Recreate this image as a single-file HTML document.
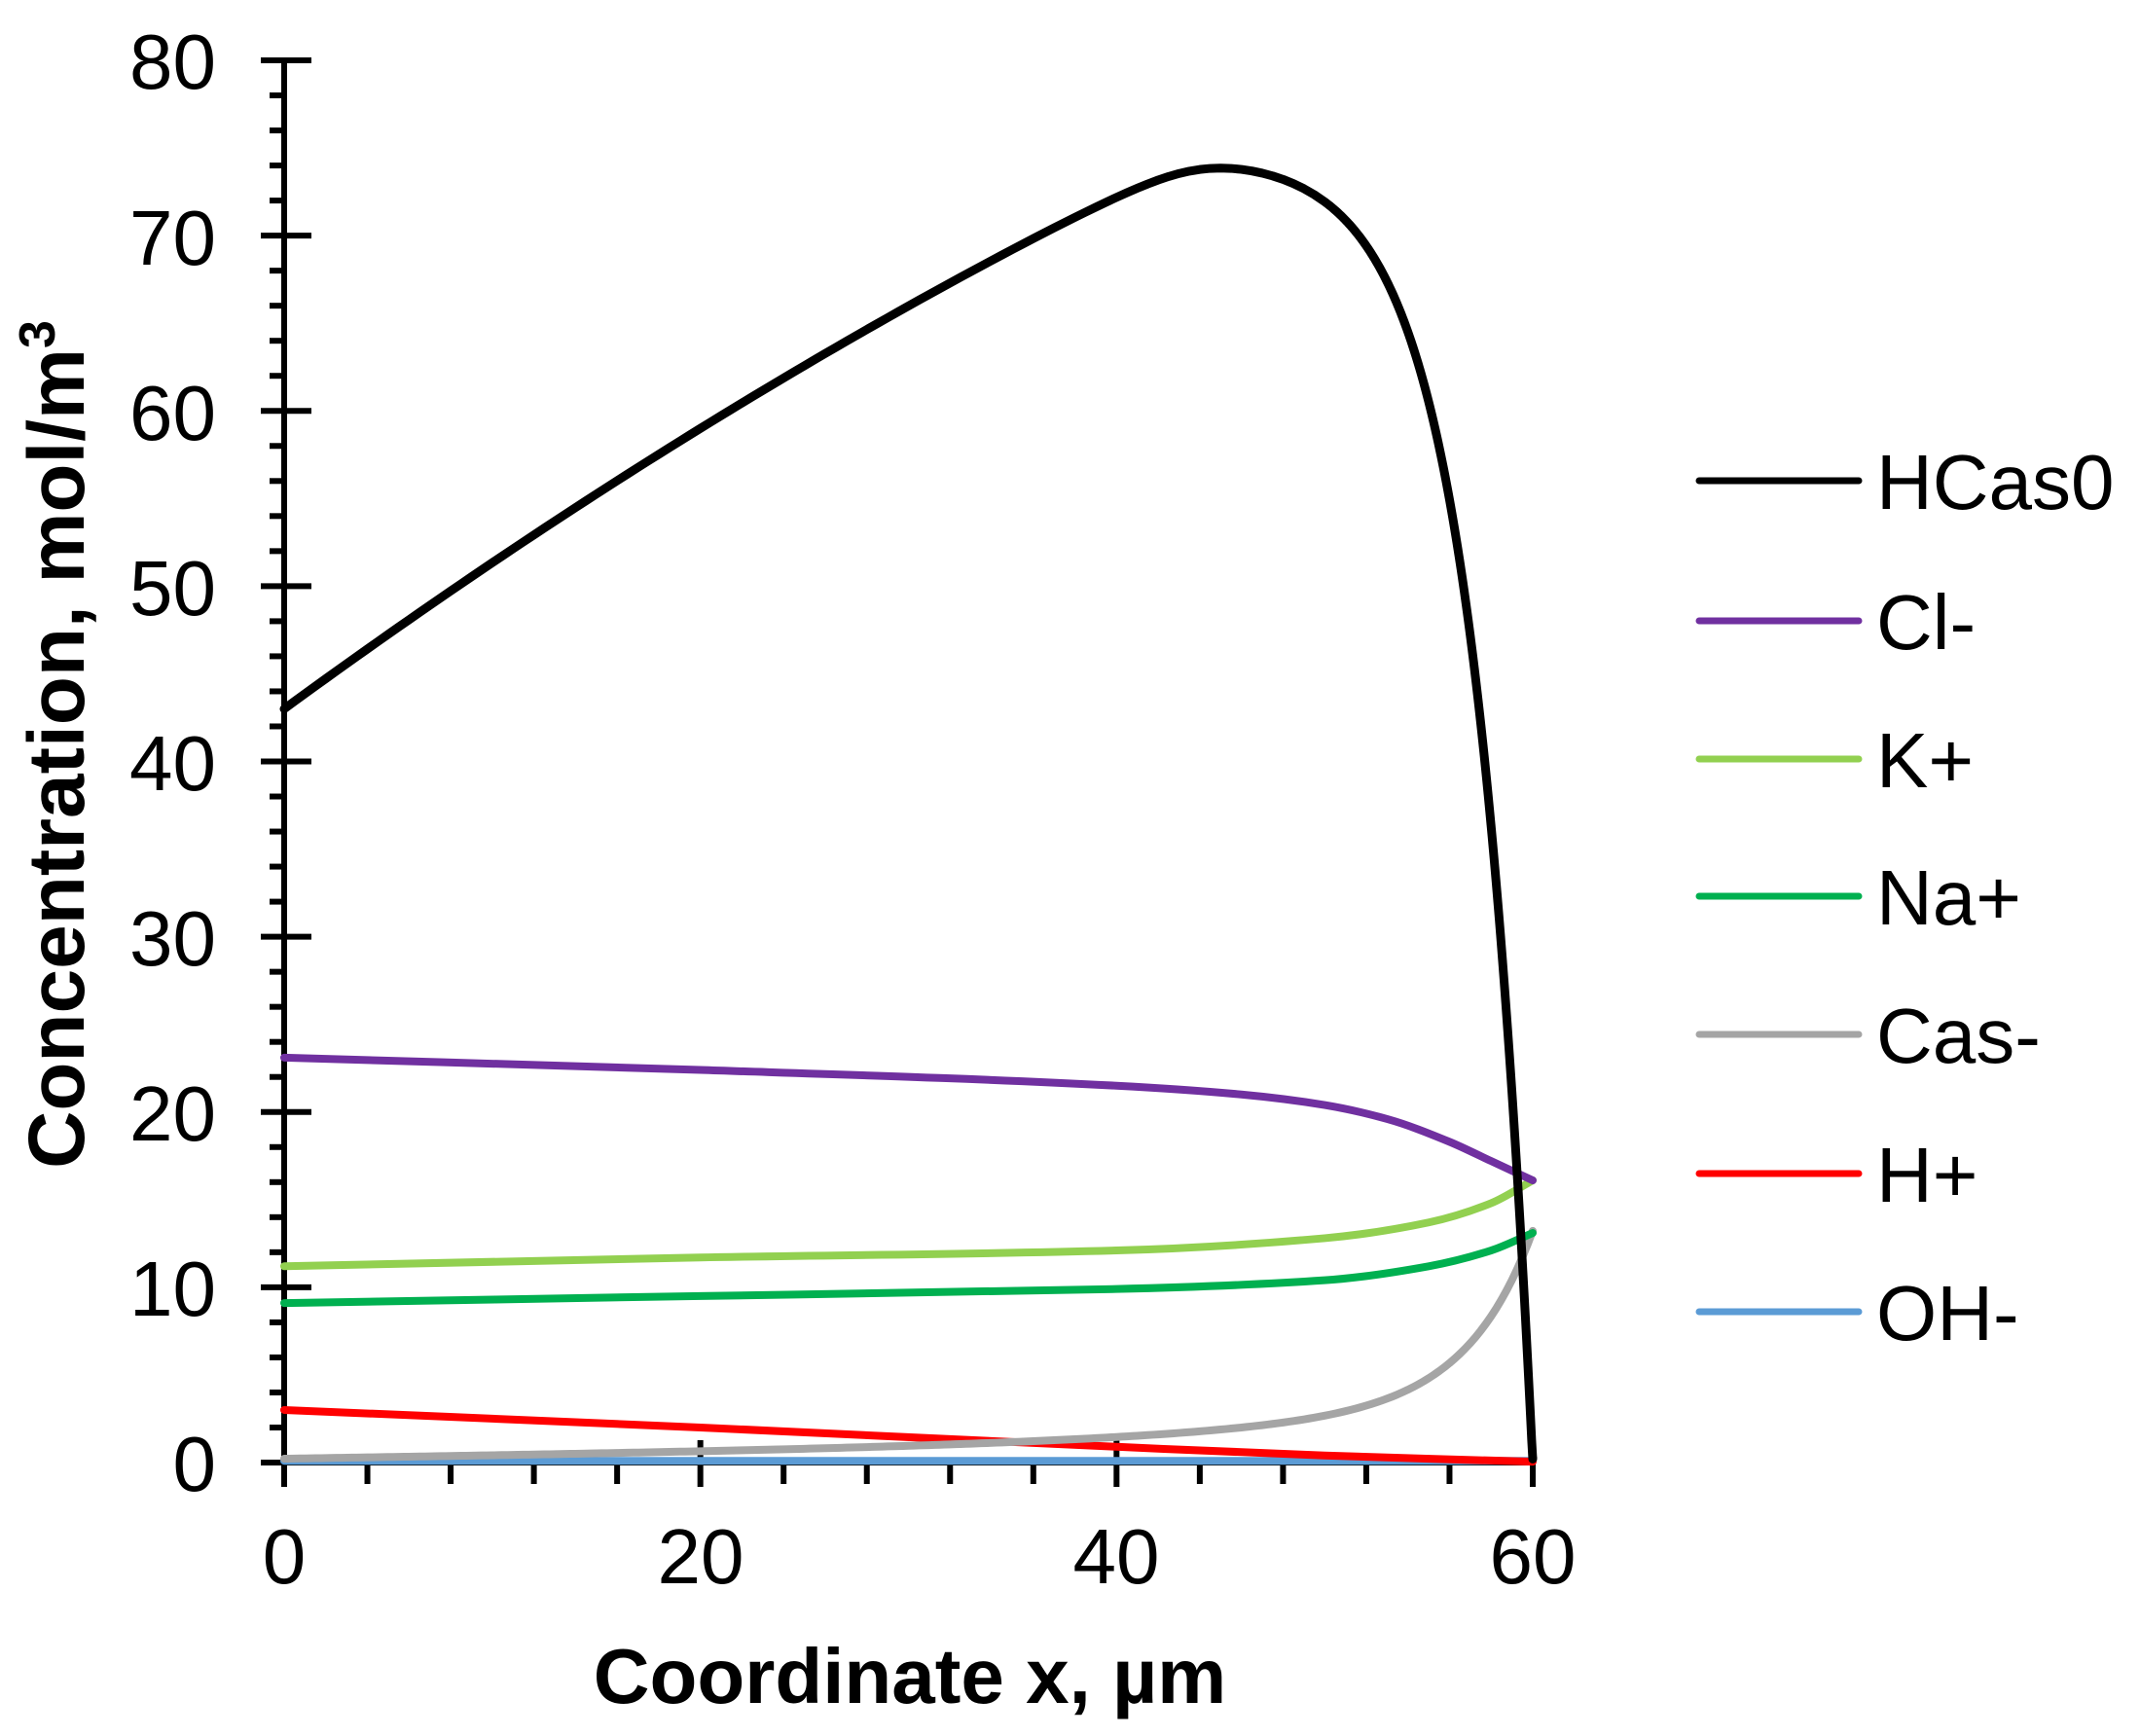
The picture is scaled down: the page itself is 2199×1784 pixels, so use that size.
<!DOCTYPE html>
<html><head><meta charset="utf-8"><style>
html,body{margin:0;padding:0;background:#fff;}
svg{display:block;font-family:"Liberation Sans",Arial,sans-serif;}
</style></head><body>
<svg id="s" width="2199" height="1784" viewBox="0 0 2199 1784" xmlns="http://www.w3.org/2000/svg">
<rect width="2199" height="1784" fill="#fff"/>
<g id="axes" stroke="#000" stroke-width="6" fill="none"></g>
<g id="series" fill="none" stroke-width="8" stroke-linejoin="round" stroke-linecap="round"></g>
<g font-size="80" fill="#000" text-anchor="end">
<text x="222" y="1532">0</text>
<text x="222" y="1352">10</text>
<text x="222" y="1172">20</text>
<text x="222" y="992">30</text>
<text x="222" y="812">40</text>
<text x="222" y="632">50</text>
<text x="222" y="452">60</text>
<text x="222" y="272">70</text>
<text x="222" y="91">80</text>
</g>
<g font-size="80" fill="#000" text-anchor="middle">
<text x="292" y="1627">0</text>
<text x="720" y="1627">20</text>
<text x="1147" y="1627">40</text>
<text x="1575" y="1627">60</text>
</g>
<text x="935" y="1750" text-anchor="middle" font-size="80" font-weight="bold">Coordinate x, µm</text>
<text transform="translate(86,765) rotate(-90)" text-anchor="middle" font-size="82" font-weight="bold">Concentration, mol/m<tspan font-size="52" dy="-30">3</tspan></text>
<g id="legend" stroke-width="7" stroke-linecap="round"></g>
<g font-size="80" fill="#000">
<text x="1928" y="523">HCas0</text>
<text x="1928" y="667">Cl-</text>
<text x="1928" y="809">K+</text>
<text x="1928" y="950">Na+</text>
<text x="1928" y="1092">Cas-</text>
<text x="1928" y="1235">H+</text>
<text x="1928" y="1377">OH-</text>
</g>
</svg>
<script>
var NS="http://www.w3.org/2000/svg";
function X(x){return 292+x*(1575-292)/60;}
function Y(y){return 1503-y*(1503-62)/80;}
function add(g,tag,attrs){var e=document.createElementNS(NS,tag);for(var k in attrs)e.setAttribute(k,attrs[k]);document.getElementById(g).appendChild(e);return e;}
add("axes","line",{x1:292,y1:59,x2:292,y2:1528});
add("axes","line",{x1:289,y1:1503,x2:1578,y2:1503});
for(var i=0;i<=40;i++){var y=Y(i*2);if(i%5==0)add("axes","line",{x1:268,y1:y,x2:320,y2:y});else add("axes","line",{x1:277,y1:y,x2:292,y2:y});}
for(var i=0;i<=15;i++){var x=X(i*4);if(i%5==0)add("axes","line",{x1:x,y1:1480,x2:x,y2:1528});else add("axes","line",{x1:x,y1:1503,x2:x,y2:1525});}
function pchip(pts,col,w){
 var p=pts.map(function(a){return [X(a[0]),Y(a[1])];});
 var n=p.length,d=[],m=[];
 for(var i=0;i<n-1;i++)d.push((p[i+1][1]-p[i][1])/(p[i+1][0]-p[i][0]));
 m[0]=d[0];m[n-1]=d[n-2];
 for(var i=1;i<n-1;i++){
  if(d[i-1]*d[i]<=0)m[i]=0;
  else{var h0=p[i][0]-p[i-1][0],h1=p[i+1][0]-p[i][0];var w1=2*h1+h0,w2=h1+2*h0;m[i]=(w1+w2)/(w1/d[i-1]+w2/d[i]);}
 }
 var s="M"+p[0][0].toFixed(2)+","+p[0][1].toFixed(2);
 for(var i=0;i<n-1;i++){
  var h=(p[i+1][0]-p[i][0])/3;
  s+=" C"+(p[i][0]+h).toFixed(2)+","+(p[i][1]+m[i]*h).toFixed(2)+" "+(p[i+1][0]-h).toFixed(2)+","+(p[i+1][1]-m[i+1]*h).toFixed(2)+" "+p[i+1][0].toFixed(2)+","+p[i+1][1].toFixed(2);
 }
 var e=add("series","path",{d:s,stroke:col});
 if(w)e.setAttribute("stroke-width",w);
}
function poly(pts,col,w){
 var s=pts.map(function(a,i){return (i?"L":"M")+X(a[0]).toFixed(2)+","+Y(a[1]).toFixed(2);}).join(" ");
 var e=add("series","path",{d:s,stroke:col});
 if(w)e.setAttribute("stroke-width",w);
}
pchip([[0,0.1],[60,0.1]],"#5b9bd5");
pchip([[0,3],[20,2],[40,0.9],[50,0.4],[60,0.05]],"#ff0000");
var cas=[];for(var x=0;x<=60.001;x+=0.25){cas.push([x,0.3+0.017*x+9*Math.exp((x-60)/3)+3*Math.exp((x-60)/12)-0.1]);}
poly(cas,"#a5a5a5");
pchip([[0,9.1],[20,9.5],[40,9.9],[50,10.4],[55,11.2],[58,12.1],[60,13.1]],"#00b050");
pchip([[0,11.2],[20,11.7],[40,12.1],[50,12.8],[55,13.7],[58,14.8],[60,16.1]],"#92d050");
pchip([[0,23.1],[20,22.4],[40,21.5],[46,21.0],[50,20.4],[53,19.6],[56,18.3],[58,17.2],[60,16.1]],"#7030a0");
var hc=[];
function q(x){return 43+0.8675*x-0.003375*x*x;}
function B(x){var k=0.7,a=q(x),b=74.6;var mn=Math.min(a,b);return mn-k*Math.log(Math.exp(-(a-mn)/k)+Math.exp(-(b-mn)/k));}
for(var x=0;x<=60.0001;x+=(x<50?0.5:0.05)){var xx=Math.min(x,60);hc.push([xx,B(xx)*(1-Math.exp(-(60-xx)/3))+0.2*(xx>=59.99?1:0)]);}
hc.push([60,0.3]);
poly(hc,"#000000",9);
var L=[[494,"#000000"],[638,"#7030a0"],[780,"#92d050"],[921,"#00b050"],[1063,"#a5a5a5"],[1206,"#ff0000"],[1348,"#5b9bd5"]];
L.forEach(function(a){add("legend","line",{x1:1746,y1:a[0],x2:1910,y2:a[0],stroke:a[1]});});
</script>
</body></html>
